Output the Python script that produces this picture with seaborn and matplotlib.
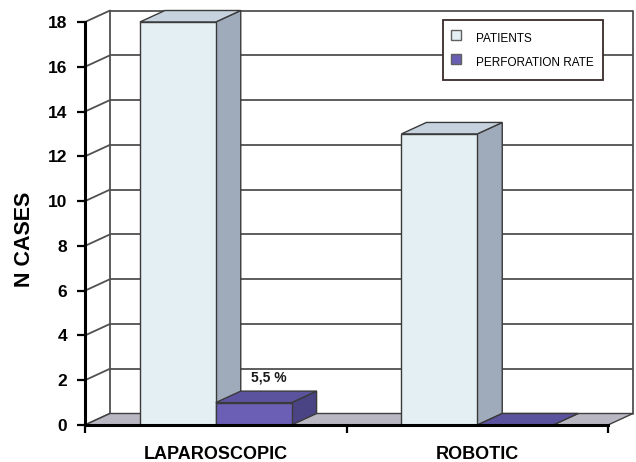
import numpy as np
import pandas as pd
import matplotlib
matplotlib.use("Agg")
import matplotlib.pyplot as plt
from matplotlib.patches import Polygon
from matplotlib.lines import Line2D
from matplotlib import font_manager
import seaborn as sns

# ---- data ----
categories = ["LAPAROSCOPIC", "ROBOTIC"]
series_names = ["PATIENTS", "PERFORATION RATE"]
patients = [18, 13]
perforation = [1, 0]
bar_labels = ["5,5 %", ""]
y_ticks = [0, 2, 4, 6, 8, 10, 12, 14, 16, 18]

df = pd.DataFrame({
    "group": categories * 2,
    "series": [series_names[0]] * len(categories) + [series_names[1]] * len(categories),
    "value": patients + perforation,
})

front_cols = {"PATIENTS": "#e4eff3", "PERFORATION RATE": "#6a5fb4"}
side_cols = {"PATIENTS": "#9fabbb", "PERFORATION RATE": "#4a4484"}
top_cols = {"PATIENTS": "#c6d3df", "PERFORATION RATE": "#5c539e"}

sns.set_style("white")
plt.rcParams["font.family"] = ["Liberation Sans", "DejaVu Sans"]
for k in ["text.color", "axes.labelcolor", "xtick.color", "ytick.color"]:
    plt.rcParams[k] = "black"

installed = {f.name for f in font_manager.fontManager.ttflist}
narrow = "Liberation Sans Narrow" if "Liberation Sans Narrow" in installed else None

fig = plt.figure(figsize=(6.36, 4.62), dpi=100)
ax = fig.add_axes([85 / 636, 37 / 462, 523 / 636, 403 / 462])

sns.barplot(data=df, x="group", y="value", hue="series", order=categories,
            hue_order=series_names, palette=front_cols, width=0.58,
            edgecolor="#3a3a3a", linewidth=1.0, saturation=1, ax=ax, legend=False)

ax.set_xlim(-0.5, 1.5)
ax.set_ylim(0, 18)

# depth offset (pixels -> data units)
p0 = ax.transData.transform((0, 0))
p1 = ax.transData.transform((1, 1))
px_x = p1[0] - p0[0]
px_y = p1[1] - p0[1]
dx = 25 / px_x
dy = 11.5 / px_y

grid_col = "#505050"
x_lo, x_hi = -0.5, 1.5
for yv in y_ticks:
    if yv > 0:
        ax.plot([x_lo + dx, x_hi + dx], [yv + dy, yv + dy], color=grid_col, lw=1.3,
                zorder=0.5, clip_on=False, solid_capstyle="butt")
    ax.plot([x_lo, x_lo + dx], [yv, yv + dy], color=grid_col, lw=1.3,
            zorder=0.5, clip_on=False)
ax.plot([x_lo + dx, x_lo + dx], [dy, 18 + dy], color=grid_col, lw=1.3, zorder=0.5, clip_on=False)
ax.plot([x_hi + dx, x_hi + dx], [dy, 18 + dy], color=grid_col, lw=1.3, zorder=0.5, clip_on=False)

floor = Polygon([(x_lo, 0), (x_hi, 0), (x_hi + dx, dy), (x_lo + dx, dy)], closed=True,
                facecolor="#b9b8c2", edgecolor="#404040", lw=1.0, zorder=0.8, clip_on=False)
ax.add_patch(floor)

for si, (name, cont) in enumerate(zip(series_names, ax.containers)):
    base_z = 2 + si * 2
    for patch in cont:
        x0 = patch.get_x()
        w = patch.get_width()
        h = patch.get_height()
        patch.set_zorder(base_z + 1)
        patch.set_clip_on(False)
        side = Polygon([(x0 + w, 0), (x0 + w + dx, dy), (x0 + w + dx, h + dy), (x0 + w, h)],
                       closed=True, facecolor=side_cols[name], edgecolor="#3a3a3a", lw=1.0,
                       zorder=base_z + 0.5, clip_on=False)
        top = Polygon([(x0, h), (x0 + w, h), (x0 + w + dx, h + dy), (x0 + dx, h + dy)],
                      closed=True, facecolor=top_cols[name], edgecolor="#3a3a3a", lw=1.0,
                      zorder=base_z + 0.5, clip_on=False)
        ax.add_patch(side)
        ax.add_patch(top)

for patch, lab in zip(ax.containers[1], bar_labels):
    if lab:
        ax.text(patch.get_x() + patch.get_width() / 2 + dx * 0.6,
                patch.get_height() + dy + 0.6, lab, ha="center", va="center",
                fontsize=10, fontweight="bold", color="#1a1a1a", zorder=10)

for s in ["top", "right"]:
    ax.spines[s].set_visible(False)
for s in ["left", "bottom"]:
    ax.spines[s].set_linewidth(2.2)
    ax.spines[s].set_color("black")
    ax.spines[s].set_zorder(9)

ax.set_yticks(y_ticks)
ax.set_yticklabels([str(t) for t in y_ticks], fontsize=12.5, fontweight="bold")
ax.tick_params(axis="y", direction="out", length=6, width=1.6, color="black", pad=7, left=True)

ax.set_xticks([0, 1])
ax.set_xticklabels(categories, fontsize=13, fontweight="bold")
ax.set_xticks([-0.5, 0.5, 1.5], minor=True)
ax.tick_params(axis="x", which="major", length=0, pad=15)
ax.tick_params(axis="x", which="minor", direction="out", length=6, width=1.6, color="black", bottom=True)

ax.set_xlabel("")
ax.set_ylabel("N CASES", fontsize=15.5, fontweight="bold")
ax.yaxis.set_label_coords(-0.095, 0.46)

handles = [Line2D([], [], marker="s", linestyle="none", markersize=6.5,
                  markerfacecolor=front_cols[n], markeredgecolor="#606060",
                  markeredgewidth=1.0) for n in series_names]
prop = {"size": 10}
if narrow:
    prop["family"] = narrow
else:
    prop["size"] = 8.5
leg = ax.legend(handles, series_names, loc="upper right", bbox_to_anchor=(0.99, 1.005),
                borderaxespad=0, frameon=True, fancybox=False, framealpha=1,
                edgecolor="#3a2a2a", handlelength=0.75, handleheight=2.0,
                handletextpad=1.35, labelspacing=0.5, borderpad=0.75, prop=prop)
leg.get_frame().set_linewidth(1.3)
leg.set_zorder(20)

fig.savefig("out.png", dpi=100)
